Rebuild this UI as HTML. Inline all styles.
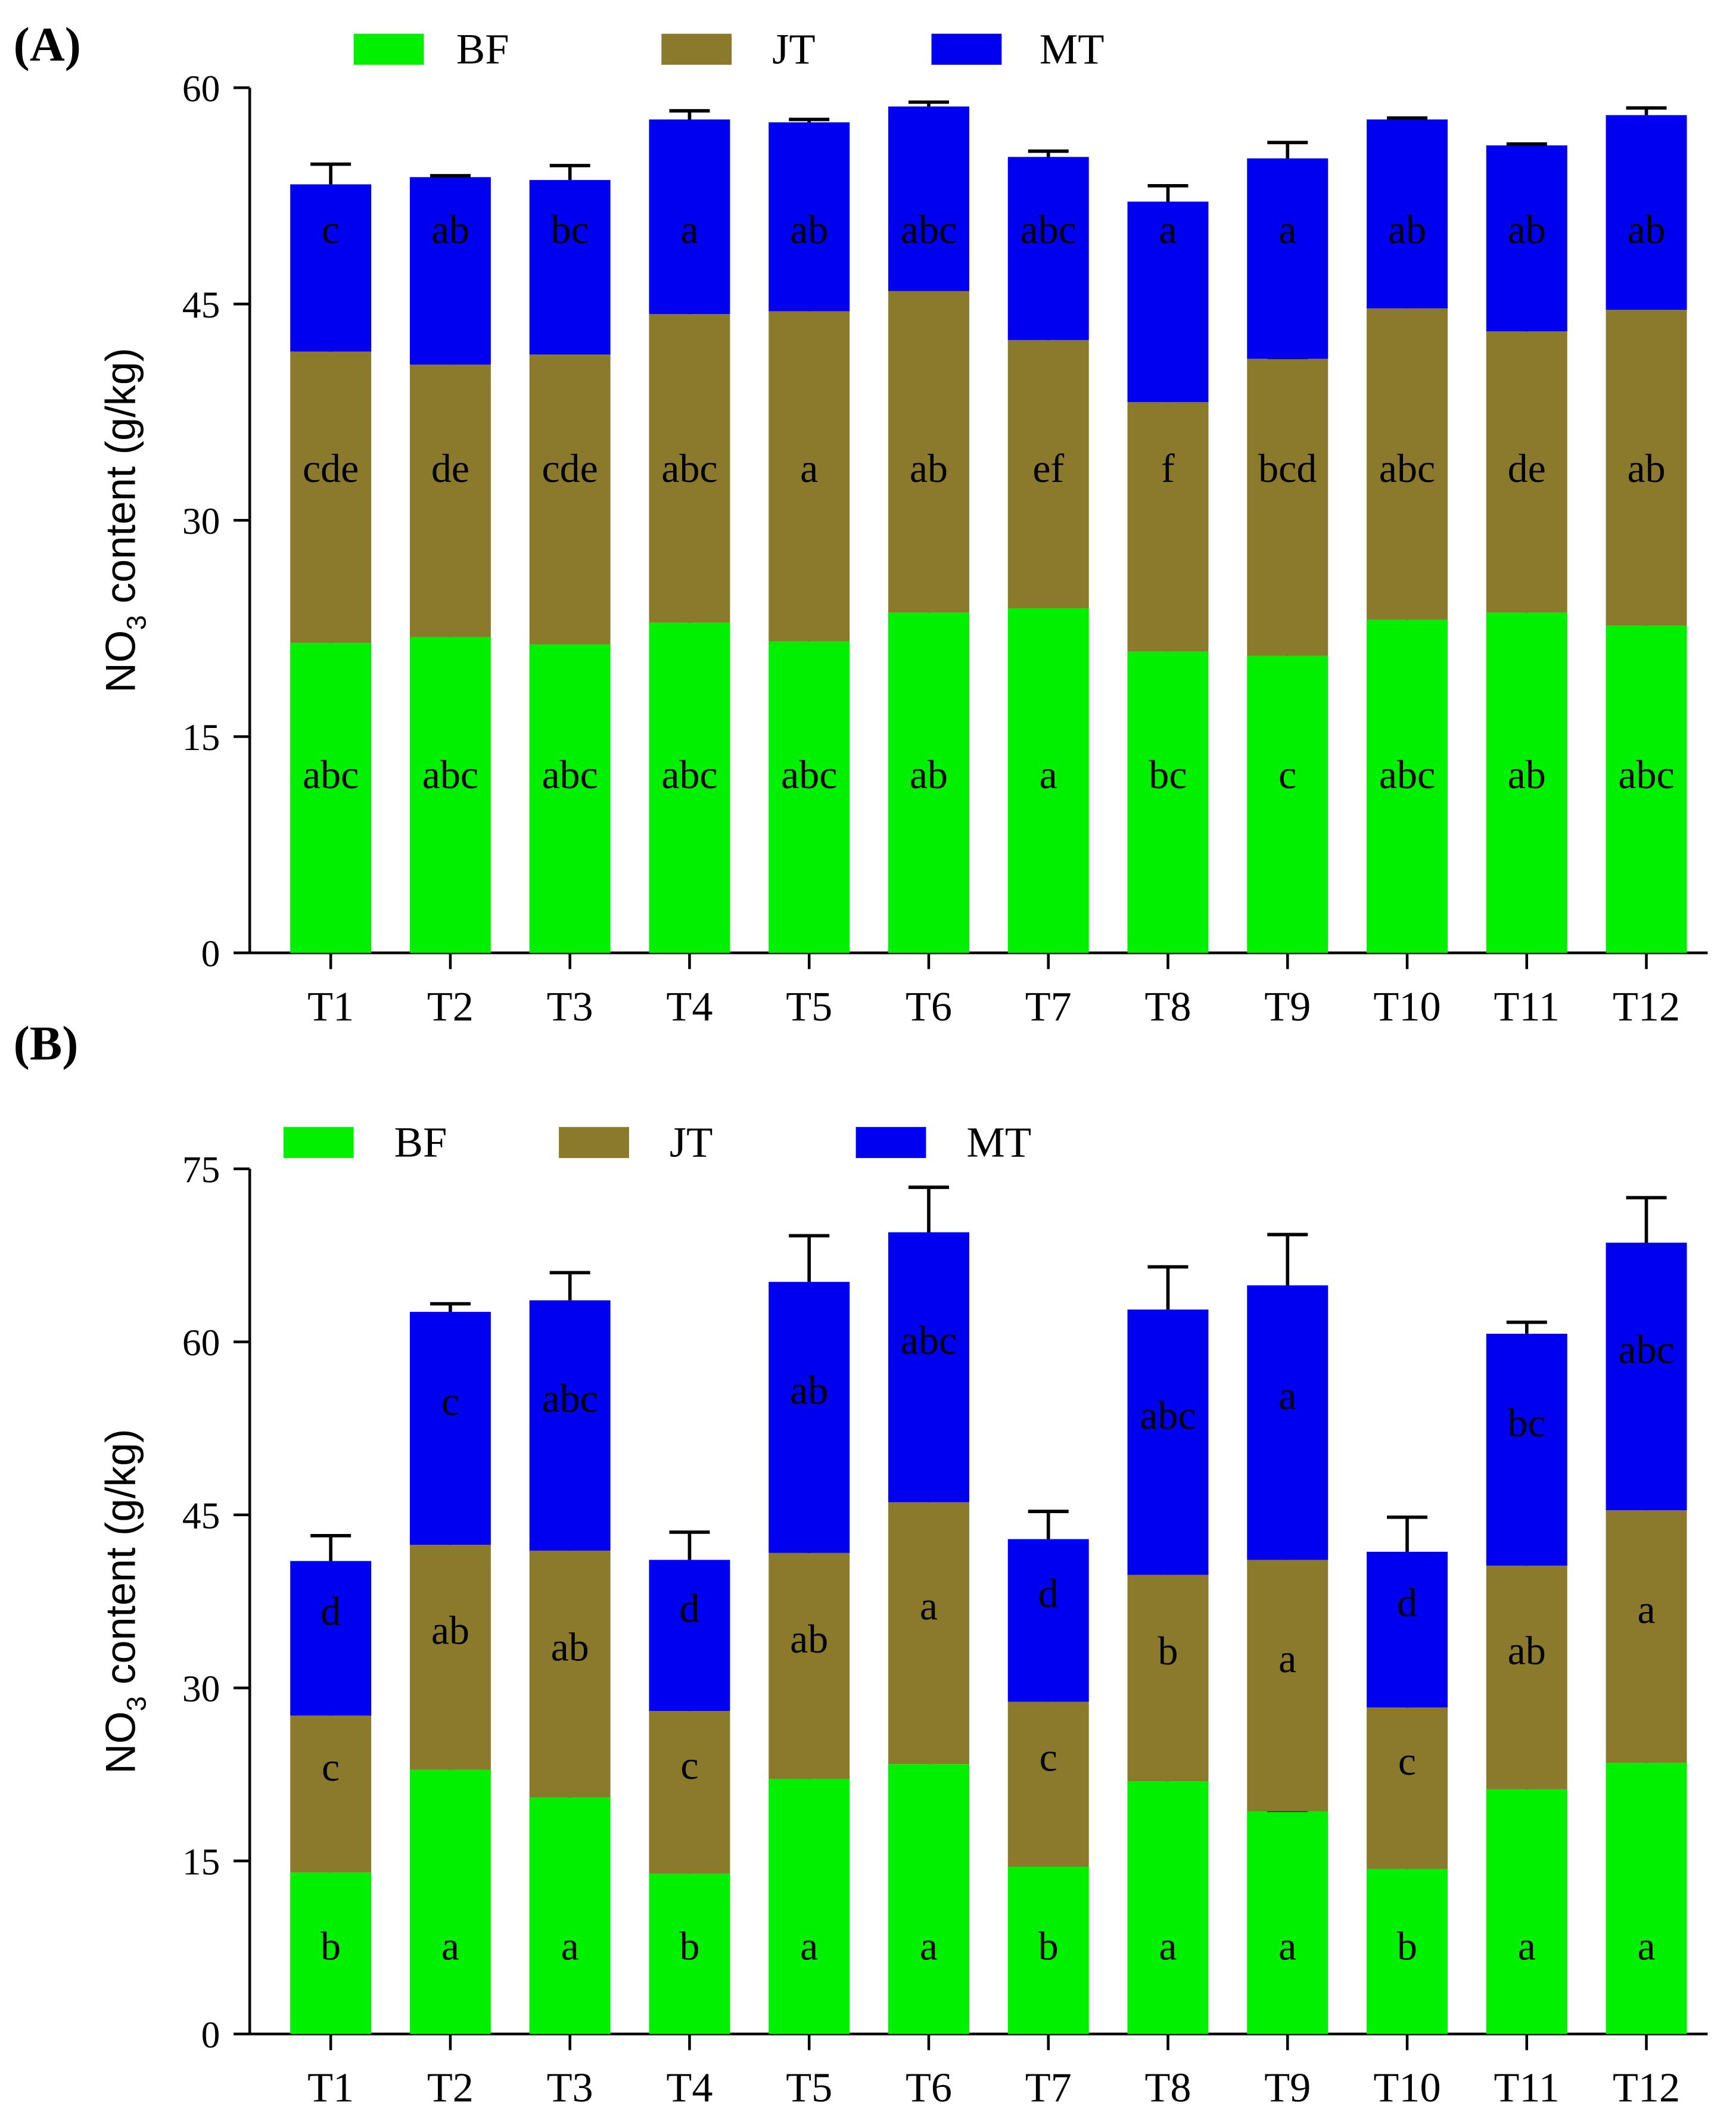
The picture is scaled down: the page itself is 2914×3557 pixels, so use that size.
<!DOCTYPE html>
<html><head><meta charset="utf-8"><style>html,body{margin:0;padding:0;background:#fff}svg{display:block}</style></head>
<body>
<svg id="chart" width="2914" height="3557" viewBox="0 0 1286 1570" preserveAspectRatio="none" xmlns="http://www.w3.org/2000/svg" font-family="'Liberation Serif', serif"></svg>
<script>
const categories = ["T1","T2","T3","T4","T5","T6","T7","T8","T9","T10","T11","T12"];
// Panel A
const aBF = [21.5,21.9,21.4,22.9,21.6,23.6,23.9,20.9,20.6,23.1,23.6,22.7];
const aBFerr = [0.9,0.5,1.0,0.6,0.8,1.4,1.7,1.5,1.8,0.8,1.4,0.4];
const aJT = [20.2,18.9,20.1,21.4,22.9,22.3,18.6,17.3,20.6,21.6,19.5,21.9];
const aJTerr = [0.3,1.5,0.2,0.8,2.5,2.0,1.9,3.3,0.1,1.4,1.0,1.6];
const aMT = [11.6,13.0,12.1,13.5,13.1,12.8,12.7,13.9,13.9,13.1,12.9,13.5];
const aMTerr = [1.4,0.1,1.0,0.6,0.2,0.3,0.4,1.1,1.1,0.1,0.1,0.5];
const aBFlet = ["abc","abc","abc","abc","abc","ab","a","bc","c","abc","ab","abc"];
const aJTlet = ["cde","de","cde","abc","a","ab","ef","f","bcd","abc","de","ab"];
const aMTlet = ["c","ab","bc","a","ab","abc","abc","a","a","ab","ab","ab"];
const aTicks = [0,15,30,45,60];
// Panel B
const bBF = [14.0,22.9,20.5,13.9,22.1,23.4,14.5,21.9,19.3,14.3,21.2,23.5];
const bBFerr = [5.3,3.8,1.1,5.4,2.9,4.2,4.8,2.6,0.1,5.0,2.1,4.5];
const bJT = [13.6,19.5,21.4,14.1,19.6,22.7,14.3,17.9,21.8,14.0,19.4,21.9];
const bJTerr = [4.9,1.0,3.3,4.3,1.4,4.4,4.1,0.2,3.5,4.2,0.9,3.5];
const bMT = [13.4,20.2,21.7,13.1,23.5,23.4,14.1,23.0,23.8,13.5,20.1,23.2];
const bMTerr = [2.2,0.7,2.4,2.4,4.0,3.9,2.4,3.7,4.4,3.0,1.0,3.9];
const bBFlet = ["b","a","a","b","a","a","b","a","a","b","a","a"];
const bJTlet = ["c","ab","ab","c","ab","a","c","b","a","c","ab","a"];
const bMTlet = ["d","c","abc","d","ab","abc","d","abc","a","d","bc","abc"];
const bTicks = [0,15,30,45,60,75];

const svg = document.getElementById('chart');
const NS = "http://www.w3.org/2000/svg";
function mk(tag, attrs, parent){const e=document.createElementNS(NS,tag);for(const k in attrs)e.setAttribute(k,attrs[k]);(parent||svg).appendChild(e);return e;}
const COLORS = {BF:"#00f000", JT:"#8b7a2c", MT:"#0000f0"};

function panel(cfg){
  const g = mk('g',{});
  
  
  const x0=185, x1=1265, y0=cfg.y0, yTop=cfg.yTop, ymax=cfg.ticks[cfg.ticks.length-1];
  const Y = v => y0 - (v/ymax)*(y0-yTop);
  const X = i => 245 + 88.6*i;
  const bw = 60;
  const ya = mk('line',{x1:x0,y1:yTop,x2:x0,y2:y0,stroke:"#000","stroke-width":2},g);
   
  const xa = mk('line',{x1:x0,y1:y0,x2:x1,y2:y0,stroke:"#000","stroke-width":2},g);
   
  cfg.ticks.forEach(t=>{
    const tl = mk('line',{x1:x0-12,y1:Y(t),x2:x0,y2:Y(t),stroke:"#000","stroke-width":2},g);
     
    const tx = mk('text',{x:x0-22,y:Y(t)+10,"text-anchor":"end","font-size":28},g);
    tx.textContent=t;
     
  });
  categories.forEach((c,i)=>{
    const tl = mk('line',{x1:X(i),y1:y0,x2:X(i),y2:y0+12,stroke:"#000","stroke-width":2},g);
     
    const tx = mk('text',{x:X(i),y:y0+50,"text-anchor":"middle","font-size":31},g);
    tx.textContent=c;
     
  });
  const series=[["BF",cfg.bf,cfg.bfe,cfg.bfl,cfg.fixY[0]],["JT",cfg.jt,cfg.jte,cfg.jtl,cfg.fixY[1]],["MT",cfg.mt,cfg.mte,cfg.mtl,cfg.fixY[2]]];
  categories.forEach((c,i)=>{
    let base=0;
    series.forEach(([key,vals,errs,lets,fy])=>{
      const top=base+vals[i];
      const r = mk('rect',{x:X(i)-bw/2,y:Y(top),width:bw,height:Y(base)-Y(top),fill:COLORS[key]},g);
      
      
      const et=top+errs[i];
      const el = mk('path',{d:`M${X(i)} ${Y(top)}V${Y(et)}M${X(i)-15} ${Y(et)}H${X(i)+15}`,stroke:"#000","stroke-width":2.5,fill:"none"},g);
      
      
      const ly = fy!==null ? fy : (Y(base)+Y(top))/2 - 10;
      const lt = mk('text',{x:X(i),y:ly,"text-anchor":"middle","font-size":30},g);
      lt.textContent=lets[i];
      
      
      base=top;
    });
  });
  const yl = mk('text',{x:0,y:0,transform:`translate(100 ${(y0+yTop)/2}) rotate(-90)`,"text-anchor":"middle","font-size":31,"font-family":"'Liberation Sans', sans-serif"},g);
  yl.innerHTML='NO<tspan font-size="20" dy="8">3</tspan><tspan dy="-8"> content (g/kg)</tspan>';
   
  const pl = mk('text',{x:10,y:cfg.labelY,"font-size":36,"font-weight":"bold"},g);
  pl.textContent=cfg.label;
   
  cfg.legend.forEach(([key,rx,tx])=>{
    const r = mk('rect',{x:rx,y:cfg.legY,width:52,height:23,fill:COLORS[key]},g);
     
    const t = mk('text',{x:tx,y:cfg.legY+22,"font-size":32},g);
    t.textContent=key;
     
  });
}
panel({name:'panel-a',y0:706,yTop:65,ticks:aTicks,bf:aBF,bfe:aBFerr,jt:aJT,jte:aJTerr,mt:aMT,mte:aMTerr,
  bfl:aBFlet,jtl:aJTlet,mtl:aMTlet,fixY:[584,357,180],label:'(A)',labelY:45,legY:25,legend:[["BF",262,338],["JT",490,572],["MT",690,770]]});
panel({name:'panel-b',y0:1507,yTop:866,ticks:bTicks,bf:bBF,bfe:bBFerr,jt:bJT,jte:bJTerr,mt:bMT,mte:bMTerr,
  bfl:bBFlet,jtl:bJTlet,mtl:bMTlet,fixY:[1452,null,null],label:'(B)',labelY:785,legY:835,legend:[["BF",210,292],["JT",414,496],["MT",634,716]]});
</script>
</body></html>
